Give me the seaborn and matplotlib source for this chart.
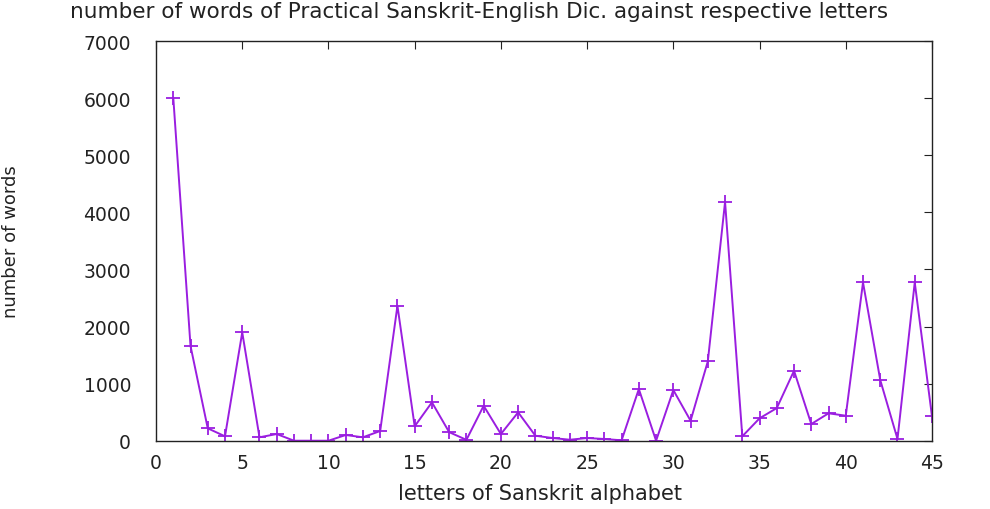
import numpy as np
import pandas as pd
import matplotlib
matplotlib.use("Agg")
import matplotlib.pyplot as plt
import seaborn as sns

letters = list(range(1, 46))
words = [6010, 1660, 217, 77, 1897, 60, 117, 0, 0, 0,
         100, 60, 170, 2363, 252, 672, 150, 15, 612, 117,
         497, 87, 47, 17, 47, 30, 7, 905, 0, 887,
         350, 1390, 4183, 77, 392, 572, 1225, 292, 480, 438,
         2772, 1062, 30, 2772, 427]
x_ticks = [0, 5, 10, 15, 20, 25, 30, 35, 40, 45]
y_ticks = [0, 1000, 2000, 3000, 4000, 5000, 6000, 7000]

df = pd.DataFrame({"letter": letters, "words": words})

sns.set_style("white")
plt.rcParams['font.family'] = ['DejaVu Sans']

fig = plt.figure(figsize=(9.9, 5.1), dpi=100)
ax = fig.add_axes([0.1576, 0.1339, 0.7838, 0.7837])
sns.lineplot(data=df, x="letter", y="words", ax=ax, color="#9a1ee0",
             marker="+", markersize=10, markeredgewidth=1.3,
             markeredgecolor="#9a1ee0", linewidth=1.4)
ax.set_xlim(0, 45)
ax.set_ylim(0, 7000)
ax.set_xticks(x_ticks)
ax.set_yticks(y_ticks)
ax.tick_params(direction="in", top=True, right=True, length=6,
               labelsize=13.5, colors="#222222")
ax.tick_params(axis="x", pad=9)
ax.tick_params(axis="y", pad=18)
for s in ax.spines.values():
    s.set_color("#222222")
    s.set_linewidth(1.0)
ax.set_xlabel("letters of Sanskrit alphabet", fontsize=15, color="#222222")
ax.set_ylabel("number of words", fontsize=13, color="#222222")
ax.xaxis.set_label_coords(0.495, -0.105)
ax.yaxis.set_label_coords(-0.175, 0.5)
fig.text(70 / 990, 1 - 12 / 510,
         "number of words of Practical Sanskrit-English Dic. against respective letters",
         ha="left", va="center", fontsize=15.5, color="#222222")
fig.savefig("out.png", dpi=100)
